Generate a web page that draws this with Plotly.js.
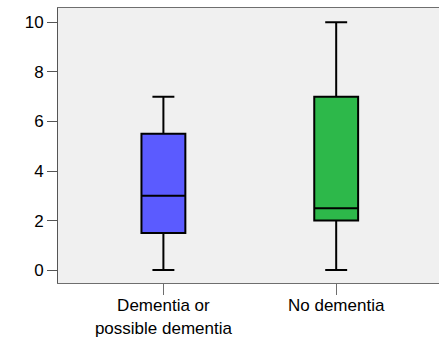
<!DOCTYPE html>
<html>
<head>
<meta charset="utf-8">
<script src="https://cdn.plot.ly/plotly-3.0.1.min.js"></script>
<style>html,body{margin:0;padding:0;background:#fff;}#chart{width:439px;height:339px;}</style>
</head>
<body>
<div id="chart"></div>
<script>
var categories = ['Dementia or<br>possible dementia', 'No dementia'];
var lowerWhisker = [0, 0];
var q1Values = [1.5, 2];
var medianValues = [3, 2.5];
var q3Values = [5.5, 7];
var upperWhisker = [7, 10];
var boxColors = ['#5b5bff', '#2db84a'];
var yTicks = [0, 2, 4, 6, 8, 10];

var traces = categories.map(function (c, i) {
  return {
    type: 'box',
    x: [c],
    q1: [q1Values[i]],
    median: [medianValues[i]],
    q3: [q3Values[i]],
    lowerfence: [lowerWhisker[i]],
    upperfence: [upperWhisker[i]],
    fillcolor: boxColors[i],
    line: {color: '#000', width: 2},
    whiskerwidth: 0.5,
    width: 0.254,
    boxpoints: false,
    hoverinfo: 'skip',
    showlegend: false
  };
});

var layout = {
  width: 439, height: 339,
  margin: {l: 57.5, r: 0, t: 8, b: 56, pad: 0},
  paper_bgcolor: '#ffffff',
  plot_bgcolor: '#f0f0f0',
  boxmode: 'overlay',
  font: {family: '"Liberation Sans", Arial, sans-serif', color: '#000'},
  xaxis: {
    type: 'category',
    categoryarray: categories,
    range: [-0.61, 1.595],
    showgrid: false, zeroline: false,
    showline: true, linecolor: '#6e6e6e', linewidth: 1, mirror: true,
    ticks: 'outside', ticklen: 11, tickcolor: '#6e6e6e', tickwidth: 1,
    ticklabelstandoff: -4,
    tickfont: {size: 17, color: '#000'}
  },
  yaxis: {
    range: [-0.52, 10.58],
    tickvals: yTicks,
    ticktext: yTicks.map(String),
    showgrid: false, zeroline: false,
    showline: true, linecolor: '#555555', linewidth: 1,
    ticks: 'outside', ticklen: 10, tickcolor: '#555555', tickwidth: 1,
    tickfont: {size: 17, color: '#000'}
  }
};

Plotly.newPlot('chart', traces, layout, {staticPlot: true, displayModeBar: false});
</script>
</body>
</html>
